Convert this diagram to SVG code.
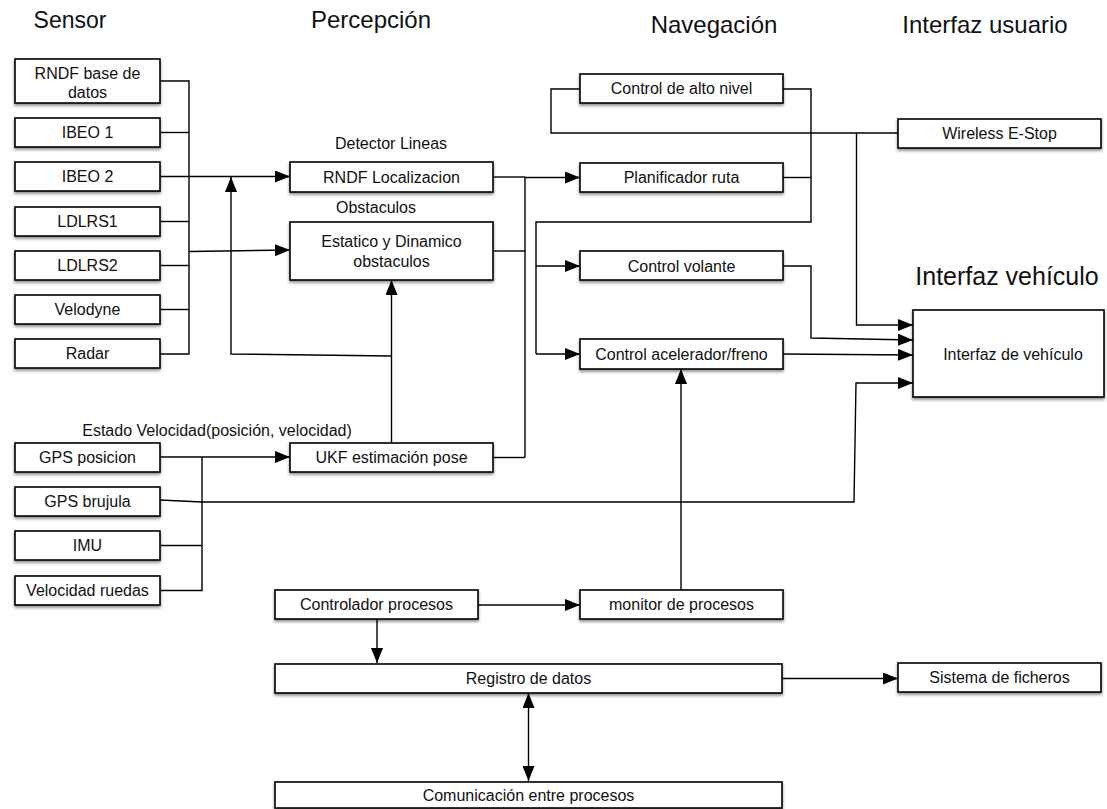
<svg xmlns="http://www.w3.org/2000/svg" width="1107" height="809" viewBox="0 0 1107 809">
<style>
.box{fill:#fff;stroke:#000;stroke-width:1.6;filter:url(#sh)}
.t{font-family:"Liberation Sans",Arial,sans-serif;font-size:16px;fill:#111;text-anchor:middle}
.lbl{font-family:"Liberation Sans",Arial,sans-serif;font-size:16px;fill:#111;text-anchor:middle}
.title{font-family:"Liberation Sans",Arial,sans-serif;font-size:24px;fill:#111;text-anchor:middle}
.c{fill:none;stroke:#000;stroke-width:1.4}
.a{marker-end:url(#ah)}
.b{marker-end:url(#ah);marker-start:url(#ah)}
</style>
<defs>
<filter id="sh" x="-5%" y="-20%" width="110%" height="160%">
<feDropShadow dx="0" dy="2" stdDeviation="1.5" flood-color="#000" flood-opacity="0.45"/>
</filter>
<marker id="ah" viewBox="0 0 15 12" refX="15" refY="6" markerWidth="15" markerHeight="12" markerUnits="userSpaceOnUse" orient="auto-start-reverse">
<path d="M0,0 L15,6 L0,12 z" fill="#000"/>
</marker>
</defs>
<rect width="1107" height="809" fill="#fff"/>

<g id="titles">
<text class="title" x="70" y="28" style="font-size:23px">Sensor</text>
<text class="title" x="371" y="28">Percepción</text>
<text class="title" x="714" y="33">Navegación</text>
<text class="title" x="985" y="33">Interfaz usuario</text>
<text class="title" x="1007" y="285" style="font-size:25px">Interfaz vehículo</text>
<text class="lbl" x="391" y="149">Detector Lineas</text>
<text class="lbl" x="376" y="213">Obstaculos</text>
<text class="lbl" x="217" y="436">Estado Velocidad(posición, velocidad)</text>
</g>

<g id="connectors">
<polyline class="c" points="160,81 189,81 189,354 160,354"/>
<line class="c" x1="160" y1="132.5" x2="189" y2="132.5"/>
<line class="c" x1="160" y1="221.5" x2="189" y2="221.5"/>
<line class="c" x1="160" y1="265.5" x2="189" y2="265.5"/>
<line class="c" x1="160" y1="309.5" x2="189" y2="309.5"/>
<line class="c a" x1="160" y1="176.5" x2="290" y2="176.5"/>
<line class="c a" x1="189" y1="251.5" x2="290" y2="250"/>
<line class="c a" x1="391.5" y1="443" x2="391.5" y2="280"/>
<polyline class="c a" points="391.5,356 231,354 231,177"/>
<line class="c" x1="493" y1="177" x2="525" y2="177"/>
<line class="c" x1="525" y1="177" x2="525" y2="457.5"/>
<line class="c" x1="493" y1="251" x2="525" y2="251"/>
<line class="c" x1="493" y1="457.5" x2="525" y2="457.5"/>
<line class="c a" x1="525" y1="177.5" x2="580" y2="177.5"/>
<polyline class="c" points="580,89 551,89 551,133 898,133"/>
<polyline class="c a" points="856.5,133 856.5,325 913,325"/>
<polyline class="c" points="783,89 811,89 811,222 536,222 536,354"/>
<line class="c" x1="783" y1="177.5" x2="811" y2="177.5"/>
<line class="c a" x1="536" y1="266" x2="580" y2="266"/>
<line class="c a" x1="536" y1="354" x2="580" y2="354"/>
<polyline class="c a" points="783,266 811,266 811,338 913,340"/>
<line class="c a" x1="783" y1="354" x2="913" y2="355"/>
<line class="c a" x1="681" y1="590" x2="681" y2="369"/>
<polyline class="c" points="160,590.5 202,590.5 202,457"/>
<line class="c" x1="160" y1="545.5" x2="202" y2="545.5"/>
<line class="c a" x1="160" y1="457" x2="290" y2="457"/>
<polyline class="c a" points="160,500 202,502 854,502 856,383 913,383"/>
<line class="c a" x1="478" y1="605" x2="580" y2="605"/>
<line class="c a" x1="377" y1="619" x2="377" y2="663"/>
<line class="c a" x1="782" y1="678.5" x2="898" y2="678.5"/>
<line class="c b" x1="528.5" y1="693" x2="528.5" y2="781"/>
</g>

<g id="n-rndf-db"><rect class="box" x="15" y="59" width="145" height="44"/><text class="t" x="87.5" y="79">RNDF base de</text><text class="t" x="87.5" y="98">datos</text></g>
<g id="n-ibeo1"><rect class="box" x="15" y="118" width="145" height="29"/><text class="t" x="87.5" y="138">IBEO 1</text></g>
<g id="n-ibeo2"><rect class="box" x="15" y="162" width="145" height="29"/><text class="t" x="87.5" y="182">IBEO 2</text></g>
<g id="n-ldlrs1"><rect class="box" x="15" y="207" width="145" height="29"/><text class="t" x="87.5" y="227">LDLRS1</text></g>
<g id="n-ldlrs2"><rect class="box" x="15" y="251" width="145" height="29"/><text class="t" x="87.5" y="271">LDLRS2</text></g>
<g id="n-velodyne"><rect class="box" x="15" y="295" width="145" height="29"/><text class="t" x="87.5" y="315">Velodyne</text></g>
<g id="n-radar"><rect class="box" x="15" y="339" width="145" height="29"/><text class="t" x="87.5" y="359">Radar</text></g>

<g id="n-gps-pos"><rect class="box" x="15" y="443" width="145" height="29"/><text class="t" x="87.5" y="463">GPS posicion</text></g>
<g id="n-gps-bruj"><rect class="box" x="15" y="487" width="145" height="29"/><text class="t" x="87.5" y="507">GPS brujula</text></g>
<g id="n-imu"><rect class="box" x="15" y="531" width="145" height="29"/><text class="t" x="87.5" y="551">IMU</text></g>
<g id="n-vel-ruedas"><rect class="box" x="15" y="576" width="145" height="29"/><text class="t" x="87.5" y="596">Velocidad ruedas</text></g>

<g id="n-rndf-loc"><rect class="box" x="290" y="162" width="203" height="30"/><text class="t" x="391.5" y="182.5">RNDF Localizacion</text></g>
<g id="n-obst"><rect class="box" x="290" y="222" width="203" height="58"/><text class="t" x="391.5" y="247">Estatico y Dinamico</text><text class="t" x="391.5" y="267">obstaculos</text></g>
<g id="n-ukf"><rect class="box" x="290" y="443" width="203" height="29"/><text class="t" x="391.5" y="463">UKF estimación pose</text></g>

<g id="n-alto"><rect class="box" x="580" y="74" width="203" height="29"/><text class="t" x="681.5" y="94">Control de alto nivel</text></g>
<g id="n-plan"><rect class="box" x="580" y="163" width="203" height="29"/><text class="t" x="681.5" y="183">Planificador ruta</text></g>
<g id="n-volante"><rect class="box" x="580" y="251" width="203" height="29"/><text class="t" x="681.5" y="271.5">Control volante</text></g>
<g id="n-acel"><rect class="box" x="580" y="339" width="203" height="30"/><text class="t" x="681.5" y="359.5">Control acelerador/freno</text></g>

<g id="n-estop"><rect class="box" x="898" y="119" width="203" height="29"/><text class="t" x="999.5" y="139">Wireless E-Stop</text></g>
<g id="n-interfaz"><rect class="box" x="913" y="310" width="191" height="87"/><text class="t" x="1013" y="360">Interfaz de vehículo</text></g>

<g id="n-ctrl-proc"><rect class="box" x="275" y="590" width="203" height="29"/><text class="t" x="376.5" y="610">Controlador procesos</text></g>
<g id="n-monitor"><rect class="box" x="580" y="590" width="203" height="29"/><text class="t" x="681.5" y="610">monitor de procesos</text></g>
<g id="n-registro"><rect class="box" x="275" y="664" width="507" height="29"/><text class="t" x="528.5" y="684">Registro de datos</text></g>
<g id="n-ficheros"><rect class="box" x="898" y="663" width="203" height="29"/><text class="t" x="999.5" y="683">Sistema de ficheros</text></g>
<g id="n-comun"><rect class="box" x="275" y="782" width="507" height="26"/><text class="t" x="528.5" y="801">Comunicación entre procesos</text></g>
</svg>
